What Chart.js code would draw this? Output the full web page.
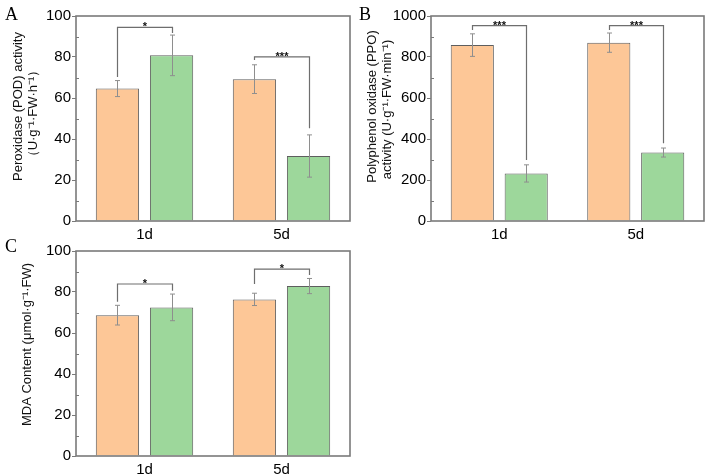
<!DOCTYPE html>
<html>
<head>
<meta charset="utf-8">
<script src="https://cdn.jsdelivr.net/npm/chart.js@4.4.1/dist/chart.umd.min.js"></script>
<style>
html, body { margin: 0; padding: 0; background: #fff; }
#wrap { position: relative; width: 708px; height: 475px; }
canvas { position: absolute; }
</style>
</head>
<body>
<div id="wrap">
<canvas id="podChart" width="354" height="240" style="left:0;top:0"></canvas>
<canvas id="ppoChart" width="354" height="240" style="left:354px;top:0"></canvas>
<canvas id="mdaChart" width="354" height="240" style="left:0;top:235px"></canvas>
</div>
<script>
// categories
const days = ['1d', '5d']

// A: peroxidase (POD)
const podControl = [64.6, 69.2]
const podControlErr = [3.9, 7.0]
const podTreat = [80.8, 31.7]
const podTreatErr = [9.9, 10.3]
const podBracketTop = [94.5, 80.1]
const podBracketLeft = [70.2, 78.5]
const podBracketRight = [91.7, 45.2]
const podStars = ['*', '***']

// B: polyphenol oxidase (PPO)
const ppoControl = [858, 870]
const ppoControlErr = [55, 47]
const ppoTreat = [232, 334]
const ppoTreatErr = [42, 22]
const ppoBracketTop = [953, 953]
const ppoBracketLeft = [932, 932]
const ppoBracketRight = [298, 379]
const ppoStars = ['***', '***']

// C: MDA content
const mdaControl = [68.7, 76.4]
const mdaControlErr = [4.8, 3.0]
const mdaTreat = [72.5, 82.9]
const mdaTreatErr = [6.5, 3.7]
const mdaBracketTop = [83.9, 91.2]
const mdaBracketLeft = [75.2, 83.9]
const mdaBracketRight = [80.6, 88.3]
const mdaStars = ['*', '*']

const SANS = "'Liberation Sans', Arial, sans-serif"
const SERIF = "'Liberation Serif', 'Times New Roman', serif"
const FRAME = '#7a7a7a'

const panelDecor = {
    id: 'panelDecor',
    afterDatasetsDraw(chart, args, opts) {
        const ctx = chart.ctx
        const ys = chart.scales.y
        ctx.save()

        // error bars
        ctx.strokeStyle = '#8e8e8e'
        ctx.lineWidth = 1
        opts.errors.forEach((errs, d) => {
            const meta = chart.getDatasetMeta(d)
            meta.data.forEach((bar, i) => {
                const v = chart.data.datasets[d].data[i]
                const x = Math.round(bar.x) + 0.5
                const y1 = ys.getPixelForValue(v - errs[i])
                const y2 = ys.getPixelForValue(v + errs[i])
                ctx.beginPath()
                ctx.moveTo(x, y1); ctx.lineTo(x, y2)
                ctx.moveTo(x - 2.5, y1); ctx.lineTo(x + 2.5, y1)
                ctx.moveTo(x - 2.5, y2); ctx.lineTo(x + 2.5, y2)
                ctx.stroke()
            })
        })

        // significance brackets
        const left = chart.getDatasetMeta(0).data
        const right = chart.getDatasetMeta(1).data
        opts.bracketTop.forEach((top, i) => {
            const xl = Math.round(left[i].x) + 0.5
            const xr = Math.round(right[i].x) + 0.5
            const yt = ys.getPixelForValue(top)
            ctx.strokeStyle = '#6e6e6e'
            ctx.lineWidth = 1.2
            ctx.beginPath()
            ctx.moveTo(xl, ys.getPixelForValue(opts.bracketLeft[i]))
            ctx.lineTo(xl, yt)
            ctx.lineTo(xr, yt)
            ctx.lineTo(xr, ys.getPixelForValue(opts.bracketRight[i]))
            ctx.stroke()
            ctx.fillStyle = '#111'
            ctx.font = 'bold 11px ' + SANS
            ctx.textAlign = 'center'
            ctx.textBaseline = 'alphabetic'
            ctx.fillText(opts.stars[i], (xl + xr) / 2, yt + 3)
        })
        ctx.restore()
    },
    afterDraw(chart, args, opts) {
        const ctx = chart.ctx
        const a = chart.chartArea
        const ys = chart.scales.y
        ctx.save()

        // frame
        ctx.strokeStyle = FRAME
        ctx.lineWidth = 1.6
        ctx.strokeRect(a.left, a.top, a.right - a.left, a.bottom - a.top)

        // minor ticks, pointing inward
        ctx.lineWidth = 1
        const step = ys.options.ticks.stepSize
        for (let v = ys.min + step / 2; v < ys.max; v += step) {
            const py = Math.round(ys.getPixelForValue(v)) + 0.5
            ctx.beginPath()
            ctx.moveTo(a.left, py)
            ctx.lineTo(a.left + 3, py)
            ctx.stroke()
        }

        // y titles
        ctx.fillStyle = '#111'
        ctx.font = '13px ' + SANS
        ctx.textAlign = 'center'
        ctx.textBaseline = 'middle'
        opts.titles.forEach(t => {
            ctx.save()
            ctx.translate(t.x, t.y)
            ctx.rotate(-Math.PI / 2)
            ctx.fillText(t.text, 0, 0)
            ctx.restore()
        })

        // panel letter
        ctx.font = '18px ' + SERIF
        ctx.textAlign = 'left'
        ctx.textBaseline = 'alphabetic'
        ctx.fillStyle = '#000'
        ctx.fillText(opts.letter, 5, opts.letterY)
        ctx.restore()
    }
}

function makePanel(id, control, controlErr, treat, treatErr, yMax, yStep, axisLeft, decor) {
    return new Chart(document.getElementById(id), {
        type: 'bar',
        data: {
            labels: days,
            datasets: [
                {label: 'Control', data: control, backgroundColor: '#FDC797',
                 borderColor: '#5e5e5e', borderWidth: 1},
                {label: 'Treatment', data: treat, backgroundColor: '#9DD79B',
                 borderColor: '#5e5e5e', borderWidth: 1},
            ],
        },
        options: {
            responsive: false,
            animation: false,
            categoryPercentage: 0.79,
            barPercentage: 0.8,
            layout: {padding: {left: 0, right: 4, top: 16, bottom: 0}},
            plugins: {
                legend: {display: false},
                tooltip: {enabled: false},
                panelDecor: decor,
            },
            scales: {
                x: {
                    grid: {display: false, drawTicks: false},
                    border: {display: false},
                    ticks: {color: '#000', font: {family: SANS, size: 15}, padding: 5},
                    afterFit: s => { s.height = 19 },
                },
                y: {
                    min: 0,
                    max: yMax,
                    grid: {drawOnChartArea: false, drawTicks: true, tickLength: 4, color: FRAME, lineWidth: 1},
                    border: {display: false},
                    ticks: {stepSize: yStep, color: '#000', font: {family: SANS, size: 15}, padding: 1,
                            callback: v => String(v)},
                    afterFit: s => { s.width = axisLeft },
                },
            },
        },
        plugins: [panelDecor],
    })
}

makePanel('podChart', podControl, podControlErr, podTreat, podTreatErr, 100, 20, 76, {
    errors: [podControlErr, podTreatErr],
    bracketTop: podBracketTop, bracketLeft: podBracketLeft, bracketRight: podBracketRight,
    stars: podStars,
    titles: [
        {text: 'Peroxidase (POD) activity', x: 18.5, y: 106.5},
        {text: '（U·g⁻¹·FW·h⁻¹）', x: 33.5, y: 113.5},
    ],
    letter: 'A', letterY: 20,
})

makePanel('ppoChart', ppoControl, ppoControlErr, ppoTreat, ppoTreatErr, 1000, 200, 77, {
    errors: [ppoControlErr, ppoTreatErr],
    bracketTop: ppoBracketTop, bracketLeft: ppoBracketLeft, bracketRight: ppoBracketRight,
    stars: ppoStars,
    titles: [
        {text: 'Polyphenol oxidase (PPO)', x: 18, y: 106.5},
        {text: 'activity (U·g⁻¹·FW·min⁻¹)', x: 33.5, y: 109.5},
    ],
    letter: 'B', letterY: 20,
})

makePanel('mdaChart', mdaControl, mdaControlErr, mdaTreat, mdaTreatErr, 100, 20, 76, {
    errors: [mdaControlErr, mdaTreatErr],
    bracketTop: mdaBracketTop, bracketLeft: mdaBracketLeft, bracketRight: mdaBracketRight,
    stars: mdaStars,
    titles: [
        {text: 'MDA Content (μmol·g⁻¹·FW)', x: 27, y: 109.5},
    ],
    letter: 'C', letterY: 17,
})
</script>
</body>
</html>
